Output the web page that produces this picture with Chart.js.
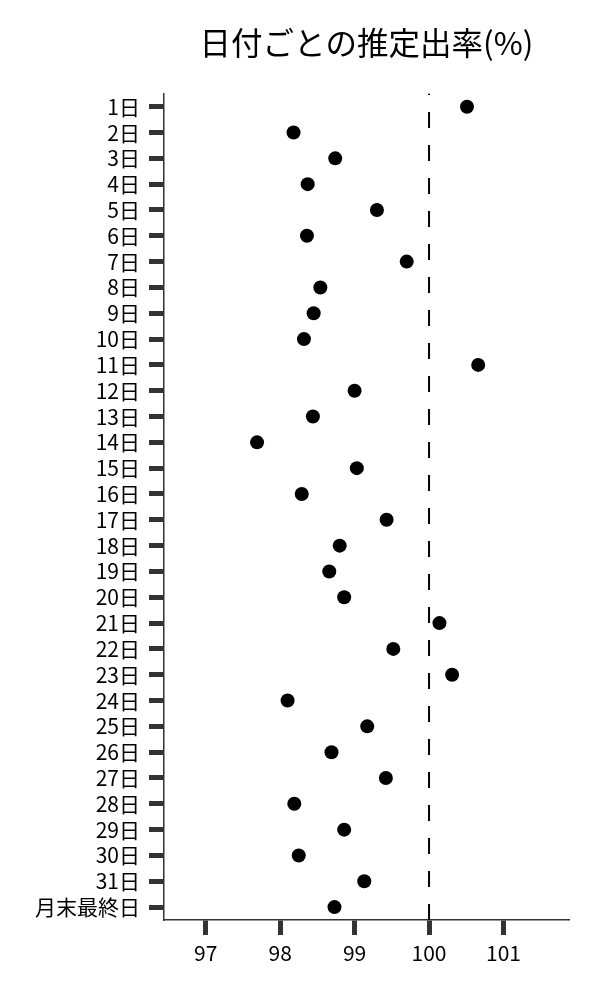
<!DOCTYPE html>
<html>
<head>
<meta charset="utf-8">
<script src="https://cdn.jsdelivr.net/npm/chart.js@4"></script>
<style>
  html, body { margin: 0; padding: 0; background: #fff; }
  #c { display: block; }
</style>
</head>
<body>
<canvas id="c" width="600" height="1000"></canvas>
<script>
const categories = ["1日","2日","3日","4日","5日","6日","7日","8日","9日","10日","11日","12日","13日","14日","15日","16日","17日","18日","19日","20日","21日","22日","23日","24日","25日","26日","27日","28日","29日","30日","31日","月末最終日"];
const rates = [100.51, 98.18, 98.74, 98.37, 99.30, 98.36, 99.70, 98.54, 98.45, 98.32, 100.66, 99.00, 98.44, 97.69, 99.03, 98.29, 99.43, 98.80, 98.66, 98.86, 100.14, 99.52, 100.31, 98.10, 99.17, 98.69, 99.42, 98.19, 98.86, 98.25, 99.13, 98.73];
const referenceValue = 100;
const xMin = 96.44, xMax = 101.88;
const titleText = "日付ごとの推定出率(%)";

const FONT = "'Noto Sans CJK JP', 'Noto Sans', sans-serif";

const refLine = {
  id: 'refLine',
  beforeDatasetsDraw(chart) {
    const {ctx, chartArea} = chart;
    const x = chart.scales.x.getPixelForValue(referenceValue);
    ctx.save();
    ctx.strokeStyle = '#000';
    ctx.lineWidth = 2;
    ctx.setLineDash([16, 17]);
    ctx.beginPath();
    ctx.moveTo(x, chartArea.bottom);
    ctx.lineTo(x, chartArea.top);
    ctx.stroke();
    ctx.restore();
  }
};

new Chart(document.getElementById('c'), {
  type: 'scatter',
  data: {
    labels: categories,
    datasets: [{
      data: categories.map((c, i) => ({x: rates[i], y: c})),
      backgroundColor: '#000',
      borderWidth: 0,
      pointRadius: 7,
      pointHoverRadius: 7
    }]
  },
  options: {
    responsive: false,
    animation: false,
    layout: { padding: { top: 10, right: 31, left: 0, bottom: 0 } },
    plugins: {
      legend: { display: false },
      tooltip: { enabled: false },
      title: {
        display: true,
        text: titleText,
        fullSize: false,
        color: '#000',
        font: { family: FONT, size: 31.5, weight: 'normal' },
        padding: { top: 14, bottom: 32 }
      }
    },
    scales: {
      x: {
        type: 'linear',
        min: xMin,
        max: xMax,
        ticks: {
          stepSize: 1,
          includeBounds: false,
          color: '#000',
          padding: 5,
          font: { family: FONT, size: 21 }
        },
        grid: {
          drawOnChartArea: false,
          drawTicks: true,
          tickLength: 15,
          tickWidth: 5,
          tickColor: '#333'
        },
        border: { display: true, color: '#333', width: 1.5 },
        afterFit(scale) { scale.height = 80; }
      },
      y: {
        type: 'category',
        labels: categories,
        offset: true,
        ticks: {
          color: '#000',
          padding: 9,
          autoSkip: false,
          font: { family: FONT, size: 21 }
        },
        grid: {
          offset: false,
          drawOnChartArea: false,
          drawTicks: true,
          tickLength: 15,
          tickWidth: 5,
          tickColor: '#333'
        },
        border: { display: true, color: '#333', width: 1.5 },
        afterFit(scale) { scale.width = 164; }
      }
    }
  },
  plugins: [refLine]
});
</script>
</body>
</html>
